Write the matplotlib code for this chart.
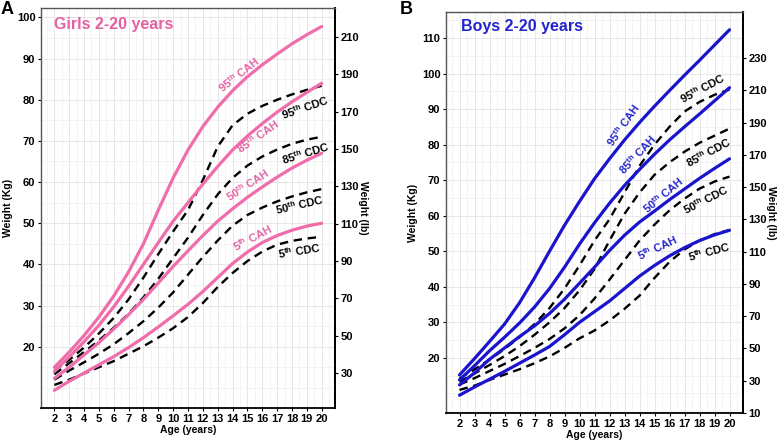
import matplotlib
matplotlib.use("Agg")
import matplotlib.pyplot as plt
from matplotlib.ticker import MultipleLocator

plt.rcParams['font.family'] = ['Liberation Sans', 'DejaVu Sans']
plt.rcParams['font.weight'] = 'bold'
plt.rcParams['mathtext.fontset'] = 'custom'
plt.rcParams['mathtext.bf'] = 'Liberation Sans:bold'
plt.rcParams['mathtext.rm'] = 'Liberation Sans:bold'

ages = list(range(2, 21))

# Girls (kg)
girls_cah_95 = [15.0, 18.7, 22.7, 27.2, 32.3, 38.2, 45.0, 53.2, 61.0, 67.8, 73.5, 78.2, 82.2, 85.6, 88.5, 91.1, 93.6, 95.8, 97.8]
girls_cah_85 = [14.0, 17.5, 21.2, 25.2, 29.7, 34.7, 40.0, 45.3, 50.5, 55.0, 59.5, 63.8, 67.8, 71.2, 74.2, 77.0, 79.5, 81.8, 84.0]
girls_cah_50 = [12.3, 15.0, 18.0, 21.0, 24.3, 27.8, 31.5, 35.5, 39.5, 43.3, 47.0, 50.5, 53.5, 56.3, 58.8, 61.2, 63.4, 65.3, 67.0]
girls_cah_5 = [9.4, 11.6, 13.6, 15.6, 17.6, 19.8, 22.2, 24.8, 27.5, 30.3, 33.4, 36.8, 40.2, 43.0, 45.3, 47.0, 48.3, 49.3, 50.0]
girls_cdc_95 = [14.2, 16.8, 19.8, 23.2, 27.0, 31.5, 36.8, 42.5, 48.0, 53.2, 60.5, 68.6, 73.8, 76.6, 78.5, 80.0, 81.3, 82.4, 83.4]
girls_cdc_85 = [13.3, 16.0, 18.7, 21.5, 24.6, 28.0, 32.0, 36.5, 41.5, 46.5, 52.0, 57.0, 61.0, 64.0, 66.2, 67.9, 69.3, 70.3, 71.0]
girls_cdc_50 = [12.0, 14.2, 16.2, 18.3, 20.6, 23.3, 26.2, 29.5, 33.2, 37.5, 41.8, 45.8, 49.4, 52.0, 53.8, 55.3, 56.5, 57.5, 58.3]
girls_cdc_5 = [10.7, 12.0, 13.5, 15.0, 16.5, 18.3, 20.1, 22.2, 24.5, 27.2, 30.6, 34.5, 37.9, 40.8, 43.1, 44.8, 45.7, 46.3, 46.7]

# Boys (kg)
boys_cah_95 = [15.2, 19.8, 24.6, 29.5, 35.5, 42.5, 50.0, 57.3, 64.0, 70.4, 76.0, 81.3, 86.2, 90.8, 95.2, 99.5, 103.7, 108.0, 112.3]
boys_cah_85 = [13.8, 17.8, 22.0, 25.8, 29.8, 34.3, 39.5, 45.5, 52.0, 58.0, 63.5, 68.5, 73.0, 77.3, 81.3, 85.0, 88.6, 92.3, 96.0]
boys_cah_50 = [12.4, 15.8, 19.6, 22.8, 26.0, 29.0, 32.5, 36.5, 41.0, 45.5, 50.2, 54.5, 58.2, 61.3, 64.5, 67.5, 70.5, 73.3, 76.0]
boys_cah_5 = [9.5, 11.8, 14.0, 16.2, 18.5, 20.8, 23.2, 26.5, 30.0, 33.0, 36.0, 39.5, 43.0, 46.0, 48.7, 51.0, 53.0, 54.6, 55.9]
boys_cdc_95 = [14.2, 16.8, 19.5, 22.5, 25.8, 29.5, 34.0, 39.5, 46.0, 53.0, 59.0, 66.5, 74.0, 80.0, 85.0, 89.3, 92.0, 94.0, 95.5]
boys_cdc_85 = [13.3, 15.6, 18.0, 20.5, 23.3, 26.5, 30.0, 34.0, 39.0, 45.0, 53.0, 60.5, 66.5, 71.5, 75.0, 78.0, 80.5, 82.5, 84.5]
boys_cdc_50 = [12.5, 14.3, 16.3, 18.3, 20.5, 22.8, 25.3, 28.3, 32.0, 36.7, 42.0, 47.5, 53.0, 57.5, 61.5, 64.8, 67.6, 69.6, 71.0]
boys_cdc_5 = [11.0, 12.2, 13.8, 15.3, 16.8, 18.5, 20.4, 22.8, 25.5, 27.7, 30.5, 33.8, 37.5, 42.5, 47.0, 50.5, 53.0, 54.8, 56.0]

pct_names = ['95', '85', '50', '5']

PINK = '#EF6DAB'
PINK_T = '#E462A2'
BLUE = '#1A14CC'
BLUE_T = '#2424CC'

# label placements (age, kg, rotation)
girls_cah_lab = [(14.4, 86.0, 38), (15.7, 71.0, 35), (15.0, 59.3, 33), (15.35, 46.3, 28)]
girls_cdc_lab = [(18.9, 78.2, 19), (18.9, 67.0, 17), (18.5, 54.4, 13), (18.5, 43.2, 9)]
boys_cah_lab = [(12.9, 85.5, 55), (13.9, 77.1, 47), (15.55, 65.8, 40), (15.2, 51.0, 25)]
boys_cdc_lab = [(18.2, 95.9, 28), (18.6, 77.8, 28), (18.4, 64.6, 27), (18.6, 49.8, 15)]

fig = plt.figure(figsize=(7.81, 4.43), dpi=100)

W, H = 781.0, 443.0
def px_axes(l, r, t, b):
    return fig.add_axes([l / W, 1 - b / H, (r - l) / W, (b - t) / H])

axA = px_axes(41, 335, 8, 408)
axB = px_axes(446, 743, 12, 413)

KG2LB = 2.20462

def style(ax, ylim, yticks, rticks):
    ax.set_xlim(1.1, 20.9)
    ax.set_ylim(*ylim)
    ax.set_xticks(ages)
    ax.set_yticks(yticks)
    ax.xaxis.set_minor_locator(MultipleLocator(0.5))
    ax.yaxis.set_minor_locator(MultipleLocator(5))
    ax.grid(True, which='major', color='#E6E6E6', lw=0.7)
    ax.grid(True, which='minor', color='#F0F0F0', lw=0.5)
    ax.set_axisbelow(True)
    ax.tick_params(which='minor', length=0)
    ax.tick_params(which='major', length=2.5, width=0.8, labelsize=8, pad=1.5)
    for lab in ax.get_xticklabels() + ax.get_yticklabels():
        lab.set_fontweight('bold')
    for side in ['left', 'top']:
        ax.spines[side].set_color('#555555')
        ax.spines[side].set_linewidth(1.0)
    for side in ['right', 'bottom']:
        ax.spines[side].set_color('black')
        ax.spines[side].set_linewidth(1.3)
    ax.set_xlabel('Age (years)', fontsize=7.5, fontweight='bold', labelpad=1)
    ax.set_ylabel('Weight (Kg)', fontsize=7.5, fontweight='bold', labelpad=3)
    sec = ax.secondary_yaxis('right', functions=(lambda k: k * KG2LB, lambda l: l / KG2LB))
    sec.set_yticks(rticks)
    sec.tick_params(length=2.5, width=0.8, labelsize=8, pad=1.5)
    for lab in sec.get_yticklabels():
        lab.set_fontweight('bold')
    sec.set_ylabel('Weight (lb)', fontsize=7.5, fontweight='bold', rotation=270, labelpad=6)
    sec.spines['right'].set_color('black')
    sec.spines['right'].set_linewidth(1.3)

def draw(ax, cah, cdc, color, tcolor, cah_lab, cdc_lab):
    for vals in cdc:
        ax.plot(ages, vals, color='black', lw=1.7, dashes=(3.6, 2.4), zorder=3)
    for vals in cah:
        ax.plot(ages, vals, color=color, lw=2.3, solid_capstyle='round',
                solid_joinstyle='round', zorder=4)
    for name, (x, y, r) in zip(pct_names, cah_lab):
        ax.text(x, y, name + r'$^{\mathbf{th}}$ CAH', color=tcolor, fontsize=8,
                fontweight='bold', rotation=r, ha='center', va='center',
                rotation_mode='anchor', zorder=5)
    for name, (x, y, r) in zip(pct_names, cdc_lab):
        ax.text(x, y, name + r'$^{\mathbf{th}}$ CDC', color='black', fontsize=8,
                fontweight='bold', rotation=r, ha='center', va='center',
                rotation_mode='anchor', zorder=5)

draw(axA, [girls_cah_95, girls_cah_85, girls_cah_50, girls_cah_5],
     [girls_cdc_95, girls_cdc_85, girls_cdc_50, girls_cdc_5], PINK, PINK_T,
     girls_cah_lab, girls_cdc_lab)
draw(axB, [boys_cah_95, boys_cah_85, boys_cah_50, boys_cah_5],
     [boys_cdc_95, boys_cdc_85, boys_cdc_50, boys_cdc_5], BLUE, BLUE_T,
     boys_cah_lab, boys_cdc_lab)

style(axA, (5.1, 102.3), list(range(20, 101, 10)), list(range(30, 211, 20)))
style(axB, (4.5, 117.3), list(range(20, 111, 10)), list(range(10, 231, 20)))

axA.text(1.95, 98.3, 'Girls 2-20 years', color=PINK_T, fontsize=11.5, fontweight='bold',
         ha='left', va='center')
axB.text(2.13, 113.1, 'Boys 2-20 years', color=BLUE_T, fontsize=11.5, fontweight='bold',
         ha='left', va='center')

fig.text(1 / W, 1 - 10 / H, 'A', fontsize=13, fontweight='bold', ha='left', va='center')
fig.text(400 / W, 1 - 9 / H, 'B', fontsize=13, fontweight='bold', ha='left', va='center')

fig.savefig('out.png', dpi=100)
